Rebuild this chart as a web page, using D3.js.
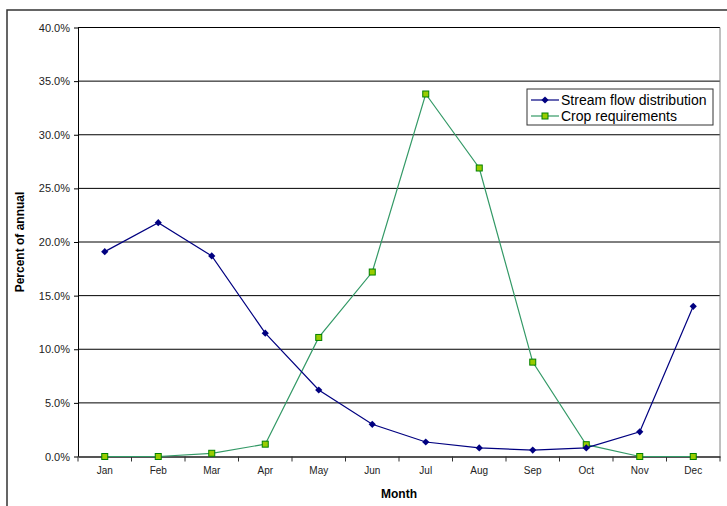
<!DOCTYPE html>
<html lang="en">
<head>
    <meta charset="UTF-8">
    <title>Stream flow vs crop requirements</title>
    <style>
        body { margin: 0; background: #fff; }
        svg { display: block; font-family: Arial, "Liberation Sans", sans-serif; }
    </style>
    <script src="https://d3js.org/d3.v7.min.js"></script>
</head>
<body>
    <svg width="727" height="506"></svg>
    <script>
        const months = ["Jan", "Feb", "Mar", "Apr", "May", "Jun", "Jul", "Aug", "Sep", "Oct", "Nov", "Dec"];
        const streamFlow = [19.1, 21.8, 18.7, 11.5, 6.2, 3.0, 1.35, 0.8, 0.6, 0.8, 2.3, 14.0];
        const cropReq = [0, 0, 0.3, 1.15, 11.1, 17.2, 33.8, 26.9, 8.8, 1.1, 0, 0];
        const yTicks = [0, 5, 10, 15, 20, 25, 30, 35, 40];

        const svg = d3.select("svg");
        const plot = {left: 78, right: 720, top: 27.5, bottom: 456.5};

        // outer chart border (runs off the right and bottom of the picture)
        svg.append("rect")
            .attr("x", 7).attr("y", 10)
            .attr("width", 740).attr("height", 520)
            .attr("fill", "none").attr("stroke", "#333").attr("stroke-width", 1.5);

        const x = d3.scaleBand().domain(months).range([plot.left, plot.right]);
        const y = d3.scaleLinear().domain([0, 40]).range([plot.bottom, plot.top]);

        // gridlines
        svg.append("g")
            .selectAll("line")
            .data(yTicks.filter(d => d > 0))
            .enter().append("line")
            .attr("x1", plot.left).attr("x2", plot.right)
            .attr("y1", d => y(d)).attr("y2", d => y(d))
            .attr("stroke", "#000").attr("stroke-width", 1);

        // plot right edge
        svg.append("line")
            .attr("x1", plot.right).attr("x2", plot.right)
            .attr("y1", plot.top).attr("y2", plot.bottom)
            .attr("stroke", "#808080");

        // y axis
        const yAxis = svg.append("g")
            .attr("transform", `translate(${plot.left},0)`)
            .call(d3.axisLeft(y).tickValues(yTicks).tickSize(4).tickSizeOuter(0)
                .tickFormat(d => d.toFixed(1) + "%"));
        yAxis.select(".domain").attr("stroke", "#000");
        yAxis.selectAll(".tick line").attr("stroke", "#000");
        yAxis.selectAll("text").attr("font-size", 11).attr("fill", "#222").attr("x", -8);

        // x axis with ticks between categories
        const xAxis = svg.append("g")
            .attr("transform", `translate(0,${plot.bottom})`)
            .call(d3.axisBottom(x).tickSize(0).tickSizeOuter(0).tickPadding(10));
        xAxis.select(".domain").attr("stroke", "#555").attr("stroke-width", 2);
        xAxis.selectAll("text").attr("font-size", 10).attr("fill", "#222");
        xAxis.append("g")
            .selectAll("line")
            .data(d3.range(months.length + 1))
            .enter().append("line")
            .attr("x1", i => plot.left + i * x.step()).attr("x2", i => plot.left + i * x.step())
            .attr("y1", 0).attr("y2", 5)
            .attr("stroke", "#333");

        const cx = i => x(months[i]) + x.bandwidth() / 2;
        const line = d3.line()
            .x((d, i) => cx(i))
            .y(d => y(d));

        // square diamond marker
        const diamond = "M0,-3.6L3.6,0L0,3.6L-3.6,0Z";

        // crop requirements
        svg.append("path")
            .datum(cropReq)
            .attr("d", line)
            .attr("fill", "none").attr("stroke", "#339966").attr("stroke-width", 1.2);
        svg.append("g")
            .selectAll("rect")
            .data(cropReq)
            .enter().append("rect")
            .attr("x", (d, i) => cx(i) - 3)
            .attr("y", d => y(d) - 3)
            .attr("width", 6).attr("height", 6)
            .attr("fill", "#99cc00").attr("stroke", "#008000").attr("stroke-width", 1);

        // stream flow
        svg.append("path")
            .datum(streamFlow)
            .attr("d", line)
            .attr("fill", "none").attr("stroke", "#000080").attr("stroke-width", 1.2);
        svg.append("g")
            .selectAll("path")
            .data(streamFlow)
            .enter().append("path")
            .attr("d", diamond)
            .attr("transform", (d, i) => `translate(${cx(i)},${y(d)})`)
            .attr("fill", "#000080");

        // axis titles
        svg.append("text")
            .attr("transform", `translate(24,${(plot.top + plot.bottom) / 2}) rotate(-90)`)
            .attr("text-anchor", "middle")
            .attr("font-size", 12).attr("font-weight", "bold")
            .text("Percent of annual");
        svg.append("text")
            .attr("x", (plot.left + plot.right) / 2).attr("y", 498)
            .attr("text-anchor", "middle")
            .attr("font-size", 12).attr("font-weight", "bold")
            .text("Month");

        // legend
        const legend = svg.append("g").attr("transform", "translate(527,89)");
        legend.append("rect")
            .attr("width", 186).attr("height", 36)
            .attr("fill", "#fff").attr("stroke", "#333");
        legend.append("line").attr("x1", 4).attr("x2", 32).attr("y1", 11).attr("y2", 11)
            .attr("stroke", "#000080").attr("stroke-width", 1.2);
        legend.append("path").attr("d", diamond)
            .attr("transform", "translate(18,11)").attr("fill", "#000080");
        legend.append("text").attr("x", 34).attr("y", 16)
            .attr("font-size", 14).attr("fill", "#000").text("Stream flow distribution");
        legend.append("line").attr("x1", 4).attr("x2", 32).attr("y1", 27).attr("y2", 27)
            .attr("stroke", "#339966").attr("stroke-width", 1.2);
        legend.append("rect").attr("x", 15).attr("y", 24).attr("width", 6).attr("height", 6)
            .attr("fill", "#99cc00").attr("stroke", "#008000");
        legend.append("text").attr("x", 34).attr("y", 32)
            .attr("font-size", 14).attr("fill", "#000").text("Crop requirements");
    </script>
</body>
</html>
